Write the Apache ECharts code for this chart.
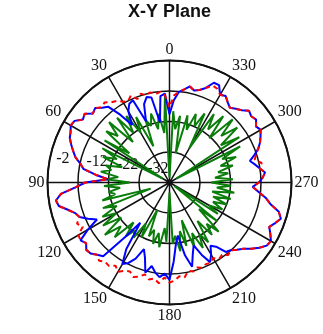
<!DOCTYPE html>
<html>
<head>
<meta charset="utf-8">
<script src="https://cdn.jsdelivr.net/npm/echarts@6/dist/echarts.min.js"></script>
<style>
html,body{margin:0;padding:0;background:#fff;}
#chart{width:323px;height:334px;}
</style>
</head>
<body>
<div id="chart"></div>
<script>
const titleText = 'X-Y Plane';
const angleTicks = [0, 30, 60, 90, 120, 150, 180, 210, 240, 270, 300, 330];
const radiusTicks = [-42, -32, -22, -12, -2];
const angles = [0,3,6,9,12,15,18,21,24,27,30,33,36,39,42,45,48,51,54,57,60,63,66,69,72,75,78,81,84,87,90,93,96,99,102,105,108,111,114,117,120,123,126,129,132,135,138,141,144,147,150,153,156,159,162,165,168,171,174,177,180,183,186,189,192,195,198,201,204,207,210,213,216,219,222,225,228,231,234,237,240,243,246,249,252,255,258,261,264,267,270,273,276,279,282,285,288,291,294,297,300,303,306,309,312,315,318,321,324,327,330,333,336,339,342,345,348,351,354,357,360];
const redVals = [-17.3,-13.4,-12.1,-12.7,-11.8,-12.4,-11.4,-12.7,-10.8,-12.1,
-11.4,-10.1,-9.5,-8.2,-8.8,-7.5,-8.2,-6.2,-6.9,-4.9,
-4.6,-5.6,-6.2,-7.5,-8.8,-10.1,-12.1,-13.4,-17.6,-21.8,
-14.4,-11.1,-6.2,-4.3,-4.9,-7.5,-9.5,-10.4,-8.8,-10.1,
-7.5,-7.2,-8.2,-6.9,-7.2,-8.5,-7.5,-8.5,-8.2,-9.5,
-8.2,-9.5,-10.1,-8.8,-9.5,-10.8,-9.5,-10.1,-8.8,-10.8,
-9.2,-9.8,-11.1,-10.5,-12.4,-11.8,-12.7,-12.1,-12.7,-12.4,
-13.4,-12.1,-12.7,-11.4,-12.1,-10.8,-9.5,-7.5,-5.6,-4.0,
-3.6,-4.9,-6.2,-4.9,-3.6,-4.9,-8.2,-10.1,-12.7,-14.7,
-12.7,-11.4,-10.5,-12.1,-11.1,-13.1,-12.1,-10.8,-9.5,-8.5,
-7.5,-8.2,-6.9,-7.5,-6.9,-8.5,-9.5,-10.5,-9.5,-8.2,
-8.8,-7.5,-7.2,-8.8,-10.1,-10.8,-9.8,-11.1,-12.1,-13.4,-17.3];
const blueVals = [-19.6,-12.8,-13.5,-22.0,-13.5,-13.0,-15.0,-20.5,-12.5,-13.0,
-15.0,-19.5,-14.5,-10.0,-9.0,-7.5,-8.2,-6.2,-6.9,-4.9,
-4.6,-5.6,-6.2,-7.5,-8.8,-10.1,-12.1,-13.4,-17.6,-21.8,
-14.4,-11.1,-6.2,-4.3,-4.9,-7.5,-9.5,-10.4,-12.7,-15.3,
-11.1,-7.2,-8.2,-6.9,-7.2,-8.5,-9.5,-19.2,-25.7,-16.0,
-11.1,-12.4,-14.7,-18.6,-16.0,-11.4,-14.0,-12.1,-10.8,-12.1,
-10.1,-16.0,-21.8,-24.4,-17.6,-13.4,-17.3,-19.9,-16.0,-12.7,
-14.7,-17.3,-16.0,-12.7,-12.1,-10.8,-9.5,-7.5,-5.6,-4.0,
-3.6,-4.9,-6.2,-4.9,-3.6,-4.9,-8.2,-10.1,-12.7,-14.7,
-12.7,-11.4,-10.5,-12.1,-13.4,-14.7,-12.7,-10.8,-9.5,-8.5,
-7.5,-8.2,-6.9,-7.5,-6.9,-8.5,-9.5,-10.5,-9.5,-8.2,
-8.8,-6.2,-6.2,-8.8,-10.1,-10.8,-9.8,-11.1,-12.1,-15.0,-19.6];
const greenVals = [-40.4,-13.4,-25.7,-19.2,-24.1,-18.6,-22.5,-19.9,-29.0,-17.9,
-23.1,-16.0,-21.8,-14.7,-24.1,-14.0,-19.2,-15.3,-25.7,-16.6,
-39.4,-17.3,-23.1,-18.6,-25.7,-20.5,-22.5,-19.2,-25.1,-21.2,
-29.0,-20.5,-25.7,-21.8,-23.8,-19.2,-35.5,-18.6,-23.1,-17.3,
-21.8,-16.0,-22.5,-14.7,-20.5,-16.6,-24.4,-19.2,-22.5,-20.5,
-26.4,-21.8,-32.2,-23.1,-25.7,-21.2,-25.1,-20.5,-27.0,-22.5,
-38.7,-21.8,-24.4,-19.2,-25.7,-20.5,-29.0,-19.2,-23.8,-17.9,
-22.5,-18.6,-26.4,-19.9,-23.8,-19.2,-29.0,-21.8,-40.0,-23.1,
-27.0,-22.5,-26.4,-21.8,-27.0,-21.2,-27.7,-20.5,-26.4,-21.8,
-28.3,-21.2,-27.0,-22.5,-25.7,-20.5,-24.4,-18.6,-23.1,-16.0,
-39.4,-14.7,-21.2,-13.4,-19.2,-12.7,-22.5,-14.0,-20.5,-15.3,
-29.0,-16.6,-21.8,-17.9,-23.8,-19.2,-32.2,-19.9,-24.4,-18.6,-40.4];

function pairs(vals){ return angles.map(function(a,i){ return [vals[i], a]; }); }

const chart = echarts.init(document.getElementById('chart'));
const labelFont = {fontFamily: '"Liberation Serif", serif', fontSize: 16, color: '#111'};
const polarCenter = [169.5, 182.5];
const polarRadius = 122;
chart.setOption({
  animation: false,
  title: {text: titleText, left: 123, top: -2,
    textStyle: {fontFamily: '"Liberation Sans", Arial, sans-serif', fontWeight: 'bold', fontSize: 18, color: '#111'}},
  polar: [
    {center: polarCenter, radius: polarRadius},
    {center: polarCenter, radius: polarRadius}
  ],
  angleAxis: [
    {polarIndex: 0, type: 'value', min: 0, max: 360, interval: 30, startAngle: 90, clockwise: false,
     axisLine: {lineStyle: {color: '#111', width: 2}},
     axisTick: {show: false},
     axisLabel: Object.assign({margin: 3, formatter: function(v){ return angleTicks.indexOf(v) >= 0 ? String(v) : ''; }}, labelFont),
     splitLine: {show: true, lineStyle: {color: '#111', width: 1.5}}},
    {polarIndex: 1, type: 'value', min: 0, max: 360, startAngle: 174, clockwise: false, show: false}
  ],
  radiusAxis: [
    {polarIndex: 0, type: 'value', min: radiusTicks[0], max: radiusTicks[radiusTicks.length-1], interval: 10,
     axisLine: {show: false}, axisTick: {show: false}, axisLabel: {show: false},
     splitLine: {show: true, lineStyle: {color: '#111', width: 1.5}}},
    {polarIndex: 1, type: 'value', min: radiusTicks[0], max: radiusTicks[radiusTicks.length-1], interval: 10,
     axisLine: {show: false}, axisTick: {show: false}, splitLine: {show: false},
     axisLabel: Object.assign({margin: 0, align: 'left', verticalAlign: 'bottom', padding: [0, 0, 3, 8],
       formatter: function(v){ return (radiusTicks.indexOf(v) > 0) ? String(v) : ''; }}, labelFont)}
  ],
  series: [
    {type: 'line', coordinateSystem: 'polar', polarIndex: 0, data: pairs(greenVals), showSymbol: false,
     lineStyle: {color: '#0a7d0a', width: 2}, z: 3},
    {type: 'line', coordinateSystem: 'polar', polarIndex: 0, data: pairs(blueVals), showSymbol: false,
     lineStyle: {color: '#0000ff', width: 2}, z: 4},
    {type: 'line', coordinateSystem: 'polar', polarIndex: 0, data: pairs(redVals), showSymbol: false,
     lineStyle: {color: '#ff0000', width: 2, type: [5, 4]}, z: 5}
  ]
});
</script>
</body>
</html>
